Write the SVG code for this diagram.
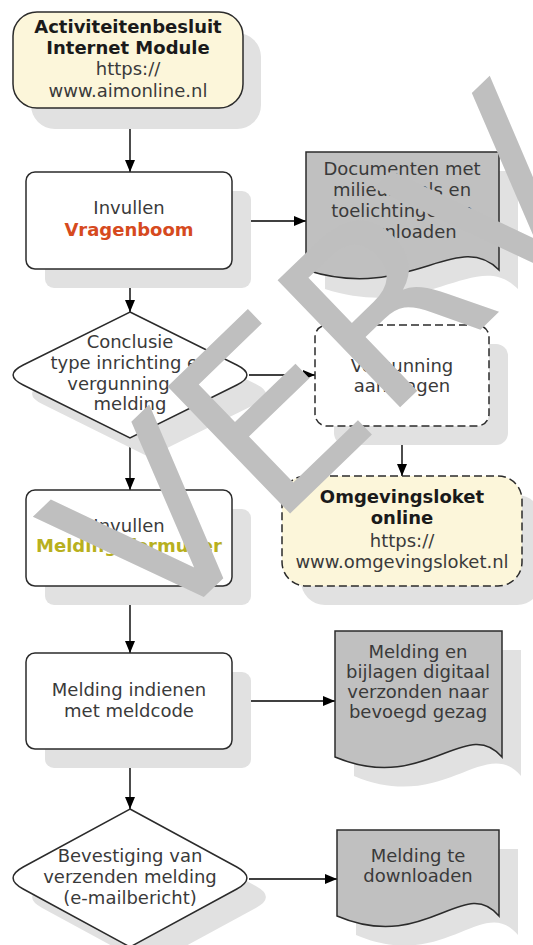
<svg xmlns="http://www.w3.org/2000/svg" width="533" height="945" viewBox="0 0 533 945">
<style>
text{font-family:"DejaVu Sans",Verdana,sans-serif;font-size:18px;fill:#3a3a3a;text-anchor:middle}
.b{font-weight:bold;fill:#1a1a1a}
.sh{fill:#e1e1e1;stroke:none}
.box{fill:#fff;stroke:#2b2b2b;stroke-width:1.5}
.cream{fill:#fcf6da;stroke:#2b2b2b;stroke-width:1.5}
.dash{stroke-dasharray:8,4}
.doc{fill:#c0c0c0;stroke:#2b2b2b;stroke-width:1.5}
.ln{fill:none;stroke:#000;stroke-width:1.4;marker-end:url(#ah)}
.wm{font-family:"DejaVu Sans",Verdana,sans-serif;font-size:242px;fill:#bfbfbf;text-anchor:start}
</style>
<defs>
<marker id="ah" markerUnits="userSpaceOnUse" markerWidth="12" markerHeight="10" refX="12" refY="5" orient="auto">
<path d="M0,0 L12,5 L0,10 Z" fill="#000"/>
</marker>
</defs>
<rect width="533" height="945" fill="#fff"/>

<g id="connectors">
<path class="ln" d="M130,108 V172"/>
<path class="ln" d="M232,221 H306"/>
<path class="ln" d="M130,269 V312"/>
<path class="ln" d="M249,375 H315"/>
<path class="ln" d="M402,426 V476"/>
<path class="ln" d="M130,438 V490"/>
<path class="ln" d="M130,586 V653"/>
<path class="ln" d="M232,701 H335"/>
<path class="ln" d="M130,749 V809"/>
<path class="ln" d="M249,879 H337"/>
</g>

<g id="n1">
<rect class="sh" x="31" y="33" width="230" height="96" rx="24"/>
<rect class="cream" x="13" y="12" width="230" height="96" rx="24"/>
<text class="b" x="128" y="33">Activiteitenbesluit</text>
<text class="b" x="128" y="54">Internet Module</text>
<text x="128" y="75">https://</text>
<text x="128" y="97">www.aimonline.nl</text>
</g>

<g id="n2">
<rect class="sh" x="45" y="191" width="206" height="97" rx="9"/>
<rect class="box" x="26" y="172" width="206" height="97" rx="9"/>
<text x="129" y="214">Invullen</text>
<text class="b" x="129" y="236" style="fill:#d64a1e">Vragenboom</text>
</g>

<g id="doc1">
<path class="sh" d="M325,171 H518 V289 C476,247 428,322 325,289 Z"/>
<path class="doc" d="M306,152 H499 V270 C457,228 409,303 306,270 Z"/>
<text x="402" y="175">Documenten met</text>
<text x="402" y="196">milieuregels en</text>
<text x="402" y="217">toelichtingen te</text>
<text x="402" y="238">downloaden</text>
</g>

<g id="d1">
<path class="sh" d="M149,331 L255.8,384 Q276,394 255.8,404 L149,457 L42.2,404 Q22,394 42.2,384 Z"/>
<path class="box" d="M130,312 L236.8,365 Q257,375 236.8,385 L130,438 L23.2,385 Q3,375 23.2,365 Z"/>
<text x="130" y="348">Conclusie</text>
<text x="130" y="369">type inrichting en</text>
<text x="130" y="390">vergunning of</text>
<text x="130" y="410">melding</text>
</g>

<g id="n5">
<rect class="sh" x="334" y="344" width="174" height="101" rx="12"/>
<rect class="box dash" x="315" y="325" width="174" height="101" rx="12"/>
<text x="402" y="372">Vergunning</text>
<text x="402" y="392">aanvragen</text>
</g>

<g id="n6">
<rect class="sh" x="301" y="495" width="240" height="110" rx="24"/>
<rect class="cream dash" x="282" y="476" width="240" height="110" rx="24"/>
<text class="b" x="402" y="503">Omgevingsloket</text>
<text class="b" x="402" y="524">online</text>
<text x="402" y="547">https://</text>
<text x="402" y="568">www.omgevingsloket.nl</text>
</g>

<g id="n3">
<rect class="sh" x="45" y="509" width="206" height="96" rx="9"/>
<rect class="box" x="26" y="490" width="206" height="96" rx="9"/>
<text x="129" y="532">Invullen</text>
<text class="b" x="129" y="552" style="fill:#b8b01e">Meldingsformulier</text>
</g>

<g id="n4">
<rect class="sh" x="45" y="672" width="206" height="96" rx="9"/>
<rect class="box" x="26" y="653" width="206" height="96" rx="9"/>
<text x="129" y="696">Melding indienen</text>
<text x="129" y="717">met meldcode</text>
</g>

<g id="doc2">
<path class="sh" d="M354,650 H521 V776 C485,734 444,814 354,776 Z"/>
<path class="doc" d="M335,631 H502 V757 C466,715 425,795 335,757 Z"/>
<text x="418" y="658">Melding en</text>
<text x="418" y="678">bijlagen digitaal</text>
<text x="418" y="698">verzonden naar</text>
<text x="418" y="718">bevoegd gezag</text>
</g>

<g id="d2">
<path class="sh" d="M149,828 L255.8,886 Q276,897 255.8,908 L149,966 L42.2,908 Q22,897 42.2,886 Z"/>
<path class="box" d="M130,809 L236.8,867 Q257,878 236.8,889 L130,947 L23.2,889 Q3,878 23.2,867 Z"/>
<text x="130" y="862">Bevestiging van</text>
<text x="130" y="883">verzenden melding</text>
<text x="130" y="904">(e-mailbericht)</text>
</g>

<g id="doc3">
<path class="sh" d="M356,849 H518 V935 C483,893 445,973 356,935 Z"/>
<path class="doc" d="M337,830 H499 V916 C464,874 426,954 337,916 Z"/>
<text x="418" y="862">Melding te</text>
<text x="418" y="882">downloaden</text>
</g>

<g id="watermark">
<text class="wm" transform="translate(154,645) rotate(-44)">VERV</text>
</g>
</svg>
